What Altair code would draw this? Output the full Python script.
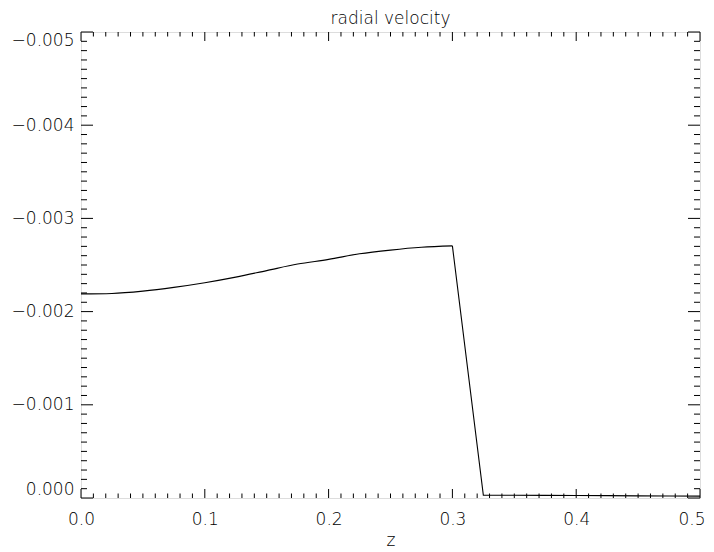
import altair as alt
import pandas as pd

# data
z = [0.0, 0.025, 0.05, 0.075, 0.1, 0.125, 0.15, 0.175, 0.2, 0.225, 0.25, 0.275, 0.3,
     0.325, 0.35, 0.375, 0.4, 0.425, 0.45, 0.475, 0.5]
vr = [-0.00219, -0.002195, -0.00222, -0.00226, -0.00231, -0.00237, -0.00244, -0.00251,
      -0.00256, -0.00262, -0.00266, -0.00269, -0.002705,
      -0.00003, -0.00003, -0.000028, -0.000027, -0.000025, -0.000023, -0.000022, -0.00002]

y_major = [-0.005, -0.004, -0.003, -0.002, -0.001, 0.0]
y_minor = [round(-0.005 + i * 0.0001, 5) for i in range(51) if i % 10 != 0]
x_major = [0.0, 0.1, 0.2, 0.3, 0.4, 0.5]
x_minor = [round(i * 0.01, 3) for i in range(51) if i % 10 != 0]

W, H = 619, 466
FONT = "DejaVu Sans"

xscale = alt.Scale(domain=[0, 0.5], nice=False, zero=False)
yscale = alt.Scale(domain=[-0.005, 0.0], reverse=True, nice=False, zero=False)

xaxis = alt.Axis(values=x_major, format=".1f", title="z", grid=False, ticks=False,
                 tickSize=0, domain=False, labelPadding=13, labelFlush=False,
                 labelAlign={"condition": {"test": "datum.value >= 0.5", "value": "right"},
                             "value": "center"},
                 labelOffset={"condition": {"test": "datum.value >= 0.5", "value": 5},
                              "value": 0},
                 labelFontSize=17, labelFont=FONT, labelFontWeight=200,
                 labelColor="black", titleFont=FONT, titleFontSize=17,
                 titleFontWeight=200, titleColor="black",
                 titleBaseline="alphabetic", titleY=47)
yaxis = alt.Axis(values=y_major, format=".3f", title=None, grid=False, ticks=False,
                 tickSize=0, domain=False, labelPadding=7, labelFlush=True,
                 labelFontSize=17, labelFont=FONT, labelFontWeight=200,
                 labelColor="black")

df = pd.DataFrame({"z": z, "v": vr})
enc = dict(x=alt.X("z:Q", scale=xscale, axis=xaxis),
           y=alt.Y("v:Q", scale=yscale, axis=yaxis))
smooth = alt.Chart(df).transform_filter("datum.z <= 0.3").mark_line(
    color="black", strokeWidth=1.1, interpolate="monotone").encode(**enc)
straight = alt.Chart(df).transform_filter("datum.z >= 0.3").mark_line(
    color="black", strokeWidth=1.1).encode(**enc)

dyM = pd.DataFrame({"v": y_major})
dym = pd.DataFrame({"v": y_minor})
dxM = pd.DataFrame({"z": x_major})
dxm = pd.DataFrame({"z": x_minor})


def yticks(d, length):
    left = alt.Chart(d).mark_rule(color="black", strokeWidth=1).encode(
        y=alt.Y("v:Q", scale=yscale, axis=yaxis), x=alt.value(0), x2=alt.value(length))
    right = alt.Chart(d).mark_rule(color="black", strokeWidth=1).encode(
        y=alt.Y("v:Q", scale=yscale, axis=yaxis), x=alt.value(W - length), x2=alt.value(W))
    return [left, right]


def xticks(d, length):
    bottom = alt.Chart(d).mark_rule(color="black", strokeWidth=1).encode(
        x=alt.X("z:Q", scale=xscale, axis=xaxis), y=alt.value(H - length), y2=alt.value(H))
    top = alt.Chart(d).mark_rule(color="black", strokeWidth=1).encode(
        x=alt.X("z:Q", scale=xscale, axis=xaxis), y=alt.value(0), y2=alt.value(length))
    return [bottom, top]


layers = [smooth, straight] + yticks(dyM, 12) + yticks(dym, 6) + xticks(dxM, 9) + xticks(dxm, 4.5)

chart = alt.layer(*layers).properties(
    width=W, height=H,
    title=alt.TitleParams("radial velocity", font=FONT, fontSize=17, fontWeight=200,
                          color="black", anchor="middle", offset=3),
    autosize=alt.AutoSizeParams(type="none"),
    padding={"left": 73, "top": 24, "right": 6, "bottom": 52},
).configure_view(stroke="black", strokeWidth=1.2).configure(background="white")

chart.save("out.html", embed_options={"renderer": "svg", "actions": False})
